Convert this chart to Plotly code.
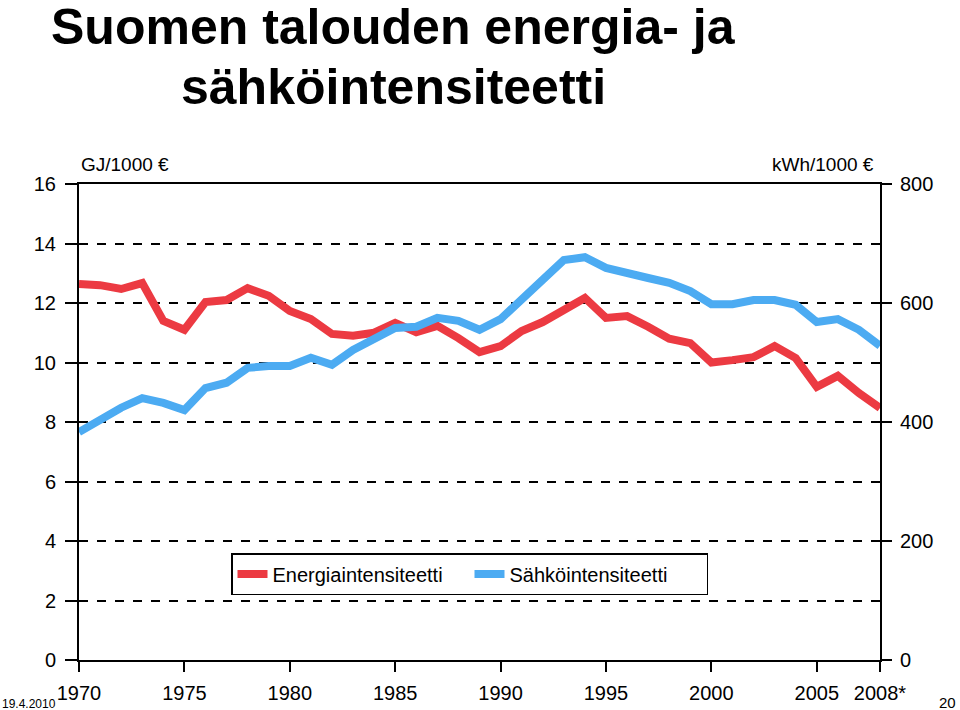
import plotly.graph_objects as go

years = list(range(1970, 2009))
energia = [12.64, 12.6, 12.47, 12.67, 11.4, 11.1, 12.03, 12.1, 12.5, 12.24,
           11.73, 11.46, 10.96, 10.9, 11.0, 11.33, 11.02, 11.23, 10.82, 10.35,
           10.55, 11.06, 11.36, 11.8, 12.17, 11.5, 11.56, 11.2, 10.8, 10.65,
           10.0, 10.08, 10.18, 10.55, 10.15, 9.18, 9.55, 8.97, 8.47]
sahko = [383, 405, 424, 440, 432, 420, 457, 466, 491, 494,
         494, 508, 496, 521, 538, 558, 560, 575, 570, 555,
         573, 608, 639, 672, 677, 659, 649, 642, 634, 620,
         598, 598, 605, 605, 597, 568, 573, 555, 528]
x_tickvals = [1970, 1975, 1980, 1985, 1990, 1995, 2000, 2005, 2008]
x_ticktext = ["1970", "1975", "1980", "1985", "1990", "1995", "2000", "2005", "2008*"]

FONT = "Liberation Sans, Arial, sans-serif"

fig = go.Figure()
fig.add_trace(go.Scatter(x=years, y=energia, mode="lines", name="Energiaintensiteetti",
                         line=dict(color="#EC3A42", width=8)))
fig.add_trace(go.Scatter(x=years, y=sahko, mode="lines", name="Sähköintensiteetti",
                         line=dict(color="#4CABF2", width=8), yaxis="y2"))

fig.update_layout(
    width=960, height=710,
    margin=dict(l=79, r=80, t=184, b=50, autoexpand=False),
    paper_bgcolor="white", plot_bgcolor="white",
    font=dict(family=FONT, color="black"),
    xaxis=dict(range=[1970, 2008], tickvals=x_tickvals, ticktext=x_ticktext,
               showline=True, linecolor="black", linewidth=2, mirror=True,
               ticks="outside", ticklen=10, tickwidth=2, tickcolor="black",
               ticklabelstandoff=4, automargin=False,
               showgrid=False, zeroline=False, tickfont=dict(size=20)),
    yaxis=dict(range=[0, 16], dtick=2, showline=True, linecolor="black", linewidth=2,
               ticks="outside", ticklen=12, tickwidth=2, tickcolor="black",
               ticklabelstandoff=5, automargin=False,
               showgrid=True, gridcolor="black", griddash="dash", gridwidth=1.5,
               zeroline=False, tickfont=dict(size=20)),
    yaxis2=dict(range=[0, 800], dtick=200, overlaying="y", side="right",
                showline=True, linecolor="black", linewidth=2,
                ticks="outside", ticklen=10, tickwidth=2, tickcolor="black",
                ticklabelstandoff=4, automargin=False,
                showgrid=False, zeroline=False, tickfont=dict(size=20)),
    legend=dict(orientation="h", x=(231 - 79) / 801, y=(660 - 553) / 476,
                xanchor="left", yanchor="top",
                bordercolor="black", borderwidth=1.5, bgcolor="white",
                font=dict(size=20), entrywidth=192),
    showlegend=True,
)

fig.add_annotation(text="<b>Suomen talouden energia- ja</b>", xref="paper", yref="paper",
                   x=(393 - 79) / 801, y=(660 - 27) / 476, xanchor="center", yanchor="middle",
                   showarrow=False, font=dict(size=50, family=FONT))
fig.add_annotation(text="<b>sähköintensiteetti</b>", xref="paper", yref="paper",
                   x=(393 - 79) / 801, y=(660 - 87) / 476, xanchor="center", yanchor="middle",
                   showarrow=False, font=dict(size=50, family=FONT))
fig.add_annotation(text="GJ/1000 €", xref="paper", yref="paper",
                   x=0.0, y=(660 - 165) / 476, xanchor="left", yanchor="middle",
                   showarrow=False, font=dict(size=19))
fig.add_annotation(text="kWh/1000 €", xref="paper", yref="paper",
                   x=(876 - 79) / 801, y=(660 - 165) / 476, xanchor="right", yanchor="middle",
                   showarrow=False, font=dict(size=19))
fig.add_annotation(text="19.4.2010", xref="paper", yref="paper",
                   x=(0 - 79) / 801, y=(660 - 704) / 476, xanchor="left", yanchor="middle",
                   showarrow=False, font=dict(size=12))
fig.add_annotation(text="20", xref="paper", yref="paper",
                   x=(958 - 79) / 801, y=(660 - 702) / 476, xanchor="right", yanchor="middle",
                   showarrow=False, font=dict(size=15))

fig.write_html("out.html", config={"displayModeBar": False},
               post_script="document.body.style.margin='0px';")
